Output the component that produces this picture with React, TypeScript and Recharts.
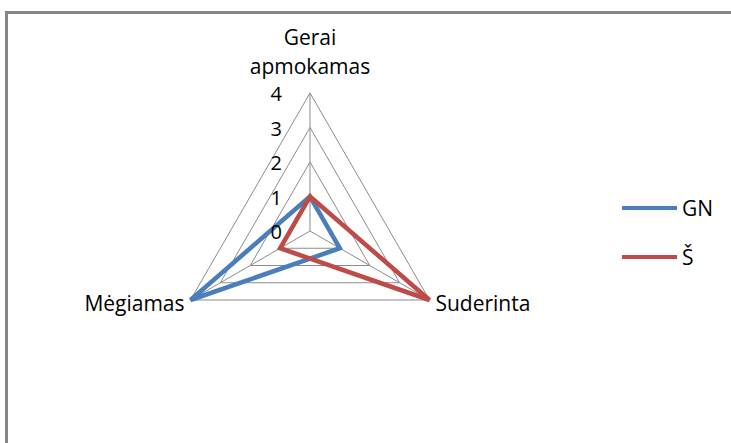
import React from "react";
import {
	RadarChart,
	Radar,
	PolarGrid,
	PolarAngleAxis,
	PolarRadiusAxis,
	Legend,
} from "recharts";

const categories = ["Gerai apmokamas", "Suderinta", "Mėgiamas"];
const gnValues = [1, 1, 4];
const sValues = [1, 4, 1];
const radiusTicks = [0, 1, 2, 3, 4];

const seriesInfo = [
	{ key: "GN", color: "#4A7EBB" },
	{ key: "Š", color: "#BE4B48" },
];

const data = categories.map((name, i) => ({
	name,
	GN: gnValues[i],
	Š: sValues[i],
}));

const FONT = "'Open Sans', sans-serif";

const AngleTick = (props: any) => {
	const { x, y, payload, textAnchor } = props;
	const words = String(payload.value).split(" ");
	if (textAnchor === "middle") {
		return (
			<text x={x} y={y} textAnchor="middle" fill="#000" fontSize={21} fontFamily={FONT}>
				<tspan x={x} dy={-40}>{words[0]}</tspan>
				<tspan x={x} dy={29}>{words.slice(1).join(" ")}</tspan>
			</text>
		);
	}
	return (
		<text
			x={textAnchor === "end" ? x + 1 : x - 1}
			y={y}
			dy={7}
			textAnchor={textAnchor}
			fill="#000"
			fontSize={21}
			fontFamily={FONT}
		>
			{payload.value}
		</text>
	);
};

const RadiusTick = (props: any) => {
	const { x, y, payload } = props;
	return (
		<text x={x - 28} y={y} dy={8} textAnchor="end" fill="#000" fontSize={20} fontFamily={FONT}>
			{payload.value}
		</text>
	);
};

const LegendContent = () => (
	<div style={{ fontFamily: FONT, fontSize: 21 }}>
		{seriesInfo.map((s) => (
			<div key={s.key} style={{ display: "flex", alignItems: "center", height: 49 }}>
				<div style={{ width: 55, height: 4, background: s.color, marginRight: 5 }} />
				<span>{s.key}</span>
			</div>
		))}
	</div>
);

export default function App() {
	return (
		<div
			style={{
				position: "absolute",
				left: 0,
				top: 0,
				width: 731,
				height: 443,
				overflow: "hidden",
				background: "#fff",
			}}
		>
			<div
				style={{
					position: "absolute",
					left: 5,
					top: 11,
					width: 800,
					height: 500,
					borderLeft: "3px solid #868686",
					borderTop: "3px solid #868686",
				}}
			/>
			<div style={{ position: "absolute", left: 0, top: 0 }}>
				<RadarChart
					width={731}
					height={443}
					data={data}
					cx={310}
					cy={231}
					outerRadius={138}
					startAngle={90}
					endAngle={-270}
				>
					<PolarGrid gridType="polygon" stroke="#8C8C8C" strokeWidth={1} />
					<PolarAngleAxis dataKey="name" tick={AngleTick} tickLine={false} axisLine={false} />
					<PolarRadiusAxis
						angle={90}
						domain={[0, 4]}
						ticks={radiusTicks as any}
						tick={RadiusTick}
						axisLine={false}
						tickLine={false}
					/>
					{seriesInfo.map((s) => (
						<Radar
							key={s.key}
							dataKey={s.key}
							stroke={s.color}
							strokeWidth={4.5}
							fill="none"
							fillOpacity={0}
							isAnimationActive={false}
						/>
					))}
					<Legend
						layout="vertical"
						content={LegendContent}
						wrapperStyle={{ left: 622, top: 183, width: 110 }}
					/>
				</RadarChart>
			</div>
		</div>
	);
}
